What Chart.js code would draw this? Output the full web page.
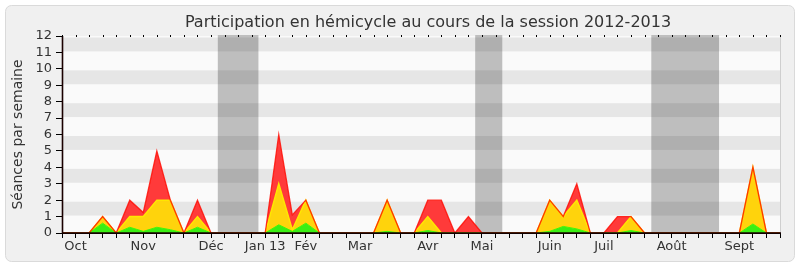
<!DOCTYPE html>
<html>
<head>
<meta charset="utf-8">
<script src="https://cdn.jsdelivr.net/npm/chart.js@4.4.1/dist/chart.umd.min.js"></script>
<style>
  html, body { margin: 0; padding: 0; background: #ffffff; }
  #wrap { width: 800px; height: 267px; position: relative; }
  canvas { display: block; }
</style>
</head>
<body>
<div id="wrap"><canvas id="chart" width="800" height="267"></canvas></div>
<script>
// Weeks of the 2012-2013 session (index 0 = first week of October)
const weeks = ['S0','S1','S2','S3','S4','S5','S6','S7','S8','S9','S10','S11','S12','S13','S14','S15','S16','S17',
  'S18','S19','S20','S21','S22','S23','S24','S25','S26','S27','S28','S29','S30','S31','S32','S33','S34','S35',
  'S36','S37','S38','S39','S40','S41','S42','S43','S44','S45','S46','S47','S48','S49','S50','S51','S52','S53'];

// Month labels and the week they sit under
const monthNames = ['Oct', 'Nov', 'Déc', 'Jan 13', 'Fév', 'Mar', 'Avr', 'Mai', 'Juin', 'Juil', 'Août', 'Sept'];
const monthWeeks = [1, 6, 11, 15, 18, 22, 27, 31, 36, 40, 45, 50];

// Parliamentary recess periods, in weeks
const recessStart = [11.5, 30.5, 43.5];
const recessEnd   = [14.5, 32.5, 48.5];

// Sittings per week, stacked: green at the bottom, then yellow, then red
const greenSeries = [0,0,0,0.6,0,0.35,0.1,0.35,0.2,0,0.35,0,0,0,0,0,0.5,0.1,0.6,0,
  0,0,0,0,0.1,0,0,0.15,0,0,0,0,0,0,0,0,0.1,0.4,0.25,0,0,0,0.15,0,0,0,0,0,0,0,0,0.55,0,0];
const yellowSeries = [0,0,0,0.4,0,0.65,0.9,1.65,1.8,0,0.65,0,0,0,0,0,2.5,0.1,1.4,0,
  0,0,0,0,1.9,0,0,0.85,0,0,0,0,0,0,0,0,1.9,0.6,1.75,0,0,0,0.85,0,0,0,0,0,0,0,0,3.45,0,0];
const redSeries = [0,0,0,0,0,1,0.25,3,0,0,1,0,0,0,0,0,3,0.9,0,0,
  0,0,0,0,0,0,0,1,2,0,1,0,0,0,0,0,0,0,1,0,0,1,0,0,0,0,0,0,0,0,0,0,0,0];

// Weekly total, used for the red outline drawn over the stack
const totalSeries = greenSeries.map((g, i) => g + yellowSeries[i] + redSeries[i]);

const yTicks = [0,1,2,3,4,5,6,7,8,9,10,11,12];
const chartTitle = 'Participation en hémicycle au cours de la session 2012-2013';

const FONT = "'DejaVu Sans', Verdana, sans-serif";
const TEXT = '#333333';

// Panel, plot background, recess bands, stripes and title
const backdrop = {
  id: 'backdrop',
  beforeDraw(chart) {
    const { ctx, chartArea: a, scales: { x, y } } = chart;
    ctx.save();
    ctx.fillStyle = '#ffffff';
    ctx.fillRect(0, 0, chart.width, chart.height);
    ctx.beginPath();
    ctx.roundRect(5.5, 5.5, chart.width - 11, chart.height - 11, 6);
    ctx.fillStyle = '#f0f0f0';
    ctx.fill();
    ctx.strokeStyle = '#dadada';
    ctx.lineWidth = 1;
    ctx.stroke();

    ctx.fillStyle = '#fafafa';
    ctx.fillRect(a.left, a.top, a.right - a.left, a.bottom - a.top);

    ctx.fillStyle = '#bebebe';
    recessStart.forEach((s, i) => {
      const x0 = x.getPixelForValue(s);
      const x1 = x.getPixelForValue(recessEnd[i]);
      ctx.fillRect(x0, a.top - 1, x1 - x0, a.bottom - a.top + 1);
    });

    ctx.fillStyle = 'rgba(0,0,0,0.08)';
    for (let v = 1; v < yTicks[yTicks.length - 1]; v += 2) {
      const yTop = y.getPixelForValue(v + 1) + 1.5;
      const yBot = y.getPixelForValue(v) - 1;
      ctx.fillRect(a.left, yTop, a.right - a.left, yBot - yTop);
    }

    ctx.strokeStyle = '#cfcfcf';
    ctx.beginPath();
    ctx.moveTo(a.right + 0.5, a.top);
    ctx.lineTo(a.right + 0.5, a.bottom);
    ctx.stroke();

    ctx.fillStyle = TEXT;
    ctx.font = '16px ' + FONT;
    ctx.textAlign = 'center';
    ctx.textBaseline = 'alphabetic';
    ctx.fillText(chartTitle, (a.left + a.right) / 2 + 7, 26.5);
    ctx.restore();
  },
  afterDatasetsDraw(chart) {
    const { ctx, chartArea: a, scales: { x } } = chart;
    ctx.save();
    ctx.strokeStyle = '#1a0000';
    ctx.lineWidth = 1.6;
    ctx.beginPath();
    ctx.moveTo(a.left + 0.5, a.top);
    ctx.lineTo(a.left + 0.5, a.bottom);
    ctx.lineTo(a.right + 1, a.bottom);
    ctx.stroke();
    // small week marks along the top edge
    ctx.fillStyle = '#000000';
    x.ticks.forEach((t, i) => {
      const px = Math.round(x.getPixelForTick(i));
      ctx.fillRect(px, a.top - 1, 1, 2);
    });
    ctx.restore();
  }
};

const labelFor = (i) => {
  const k = monthWeeks.indexOf(i);
  return k >= 0 ? monthNames[k] : '';
};

new Chart(document.getElementById('chart'), {
  type: 'line',
  data: {
    labels: weeks,
    datasets: [
      {
        label: 'vert', data: greenSeries, fill: 'origin', stack: 'seances',
        backgroundColor: '#3aee14', borderColor: '#44f500', borderWidth: 1
      },
      {
        label: 'jaune', data: yellowSeries, fill: '-1', stack: 'seances',
        backgroundColor: '#ffd30c', borderColor: '#ffe600', borderWidth: 1.5
      },
      {
        label: 'rouge', data: redSeries, fill: '-1', stack: 'seances',
        backgroundColor: '#ff3a3a', borderWidth: 0
      },
      {
        label: 'total', data: totalSeries, fill: false, stack: 'contour', order: -1,
        borderColor: 'rgba(255,10,0,0.8)', borderWidth: 1.3
      }
    ]
  },
  options: {
    responsive: false,
    animation: false,
    devicePixelRatio: 1,
    events: [],
    elements: { point: { radius: 0 }, line: { tension: 0 } },
    layout: { padding: { left: 5, right: 20, top: 36, bottom: 0 } },
    plugins: {
      legend: { display: false },
      tooltip: { enabled: false },
      title: { display: false }
    },
    scales: {
      x: {
        type: 'category',
        offset: false,
        grid: { drawOnChartArea: false, drawTicks: true, tickLength: 5, color: '#000000' },
        border: { display: true, color: '#000000' },
        ticks: {
          autoSkip: false, maxRotation: 0, minRotation: 0, padding: 1,
          color: TEXT, font: { family: FONT, size: 13 },
          callback: (v, i) => labelFor(i)
        },
        afterFit: (s) => { s.height = 34; }
      },
      y: {
        stacked: true,
        min: 0, max: 12,
        grid: { drawOnChartArea: false, drawTicks: true, tickLength: 6, color: '#000000' },
        border: { display: true, color: '#000000' },
        ticks: {
          stepSize: 1, autoSkip: false, padding: 4, color: TEXT, font: { family: FONT, size: 13 },
          callback: (v) => yTicks.includes(v) ? String(v) : ''
        },
        title: {
          display: true, text: 'Séances par semaine', color: TEXT,
          font: { family: FONT, size: 14, weight: 'normal' },
          padding: { top: 4.6, bottom: 0 }
        },
        afterFit: (s) => { s.width = 57; }
      }
    }
  },
  plugins: [backdrop]
});
</script>
</body>
</html>
